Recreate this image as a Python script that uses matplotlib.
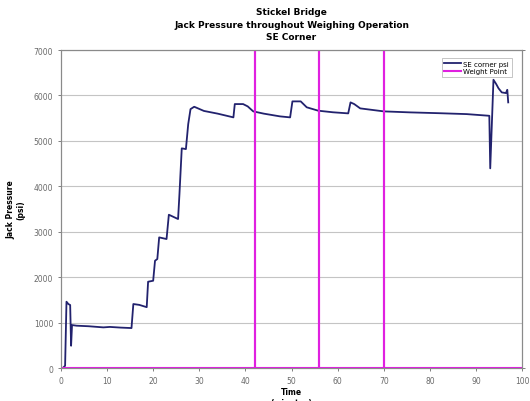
import numpy as np
import matplotlib.pyplot as plt

# SE corner jack pressure
t_min = [0.0, 0.4, 0.9, 1.2, 1.6, 2.0, 2.2, 2.4, 3.4, 6.0, 9.2, 10.6, 13.0, 15.3,
         15.7, 17.0, 18.6, 18.9, 20.0, 20.4, 20.9, 21.3, 22.9, 23.4, 25.4, 25.7,
         26.2, 27.1, 27.6, 28.1, 28.9, 31.0, 34.0, 37.4, 37.7, 39.5, 40.5, 41.7,
         44.0, 47.5, 49.7, 50.2, 52.0, 53.3, 55.8, 59.0, 62.3, 62.8, 63.6, 64.9,
         70.0, 75.7, 82.0, 88.0, 92.9, 93.1, 93.8, 94.4, 94.9, 95.6, 96.5, 96.8, 97.0]
psi = [0, 0, 50, 1460, 1410, 1387, 491, 946, 932, 920, 895, 905, 890, 880,
       1409, 1390, 1340, 1900, 1922, 2362, 2400, 2876, 2840, 3375, 3280, 3830,
       4836, 4820, 5370, 5700, 5752, 5660, 5600, 5518, 5811, 5811, 5760, 5650,
       5600, 5540, 5518, 5870, 5870, 5740, 5665, 5630, 5606, 5848, 5811, 5716,
       5650, 5628, 5610, 5590, 5553, 4396, 6346, 6250, 6157, 6068, 6053, 6125, 5848]

weight_points = [42, 56, 70]

navy = "#22226e"
magenta = "#e020e0"
grey = "#8a8a8a"

fig = plt.figure(figsize=(5.3, 4.02), dpi=100)
ax = fig.add_axes([0.115, 0.082, 0.870, 0.791])
ax2 = ax.twinx()

ax.plot(t_min, psi, color=navy, lw=1.3, label="SE corner psi", zorder=3)

# weight point series on the secondary axis (0..1)
wx, wy = [0], [0]
for w in weight_points:
    wx += [w, w, w]
    wy += [0, 1, 0]
wx.append(100)
wy.append(0)
ax2.plot(wx, wy, color=magenta, lw=1.5, label="Weight Point")

ax.set_xlim(0, 100)
ax.set_ylim(0, 7000)
ax2.set_ylim(0, 1)
ax.set_xticks(np.arange(0, 101, 10))
ax.set_yticks(np.arange(0, 7001, 1000))
ax2.set_yticks([0, 1])
ax.grid(axis="y", color="#c4c4c4", lw=0.8)
ax.set_axisbelow(True)

for a in (ax, ax2):
    for s in a.spines.values():
        s.set_color(grey)
    a.tick_params(labelsize=5.5, colors="#6a6a6a", length=2, width=0.6)

ax.set_xlabel("Time\n(minutes)", fontsize=5.5, fontweight="bold", labelpad=2)
ax.set_ylabel("Jack Pressure\n(psi)", fontsize=5.5, fontweight="bold", labelpad=6)
fig.suptitle("Stickel Bridge\nJack Pressure throughout Weighing Operation\nSE Corner",
             x=0.55, y=0.98, fontsize=6.5, fontweight="bold", linespacing=1.5)

h1, l1 = ax.get_legend_handles_labels()
h2, l2 = ax2.get_legend_handles_labels()
leg = ax2.legend(h1 + h2, l1 + l2, loc="upper right", fontsize=5, frameon=True,
                 fancybox=False, edgecolor="#aaaaaa", handlelength=2.5,
                 handletextpad=0.3, borderpad=0.35, labelspacing=0.25,
                 bbox_to_anchor=(0.985, 0.985))
leg.get_frame().set_linewidth(0.6)

fig.savefig("out.png", dpi=100)
